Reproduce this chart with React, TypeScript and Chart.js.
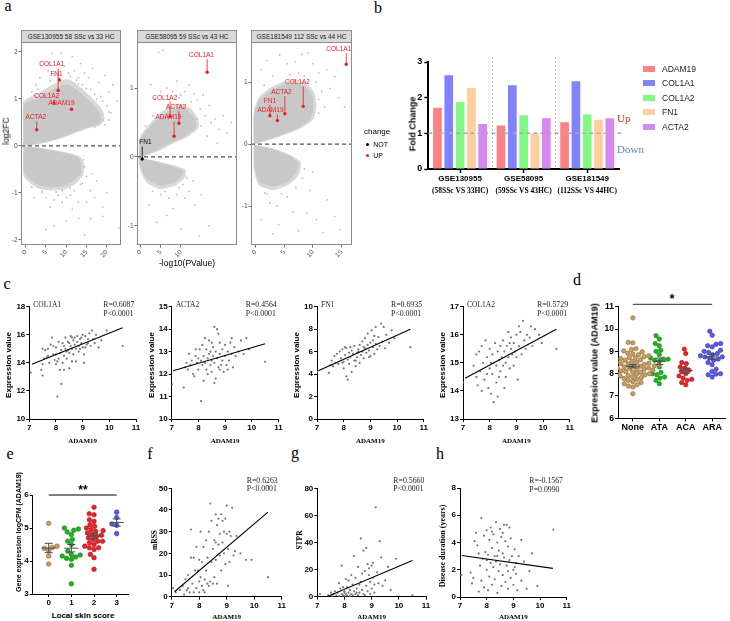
import React, { useEffect, useRef } from 'react';
import { Chart, registerables } from 'chart.js';

Chart.register(...registerables);

const SANS = "'Liberation Sans', Arial, Helvetica, sans-serif";
const SERIF = "'Liberation Serif', 'Times New Roman', Times, serif";
Chart.defaults.font.family = SANS;

type Pt = [number, number];

// ================= Panel a : volcano plots =================
const volcanoTitles = ['GSE130955 58 SSc vs 33 HC', 'GSE58095 59 SSc vs 43 HC', 'GSE181549 112 SSc vs 44 HC'];

// dense point clouds (outline of the cloud, log10P / log2FC) and their sparser halo
const v1Upper: Pt[] = [[-0.4,0.02],[-0.45,0.45],[-0.35,0.88],[1,0.95],[3,1.0],[5,1.1],[7,1.2],[9,1.28],[10.5,1.3],[12,1.22],[14,1.08],[16,0.92],[17.5,0.78],[18.5,0.62],[18,0.48],[15,0.4],[12,0.3],[9,0.2],[6,0.12],[3,0.06],[1,0.02],[-0.4,0.02]];
const v1Lower: Pt[] = [[-0.4,-0.02],[2,-0.04],[5,-0.08],[8,-0.13],[11,-0.19],[13,-0.26],[13.6,-0.4],[13.3,-0.6],[11.5,-0.76],[9,-0.85],[6,-0.87],[3,-0.82],[1,-0.7],[-0.3,-0.58],[-0.45,-0.3],[-0.4,-0.02]];
const v1UpperHalo: Pt[] = [[-0.5,0.02],[-0.6,0.48],[-0.5,0.94],[1,1.03],[3,1.1],[5,1.21],[7,1.31],[9,1.39],[10.5,1.41],[12,1.34],[14,1.2],[16,1.04],[17.8,0.88],[19,0.72],[19.3,0.55],[18.5,0.45],[15,0.37],[12,0.27],[9,0.18],[6,0.1],[3,0.045],[-0.5,0.02]];
const v1LowerHalo: Pt[] = [[-0.5,-0.02],[2,-0.035],[5,-0.07],[8,-0.115],[11,-0.17],[13.3,-0.23],[14.3,-0.38],[14,-0.62],[12.3,-0.8],[9.5,-0.92],[6,-0.94],[3,-0.89],[1,-0.78],[-0.4,-0.64],[-0.6,-0.3],[-0.5,-0.02]];
const v1Sparse: Pt[] = [[1.5,1.15],[2.5,1.3],[3.5,1.45],[4.5,1.75],[5.5,1.6],[6.5,1.97],[7,1.5],[8.8,1.98],[9.5,1.7],[10.5,1.55],[11.5,1.9],[12,1.6],[13,1.45],[13.5,1.75],[14,1.3],[14.5,1.55],[15.5,1.45],[16,1.2],[16.5,1.65],[17,1.1],[18,1.35],[18.5,1.05],[19,0.95],[19.5,1.5],[20,0.85],[20.5,1.15],[21,0.7],[21.5,1.3],[22.5,0.95],[16,0.6],[19,0.55],[12.5,1.4],[3,1.2],[19.5,0.45],[20.5,0.55],[17,0.4],[13.5,-0.55],[14,-0.8],[14.5,-0.45],[15,-0.65],[16,-0.95],[16.5,-0.6],[17.5,-0.75],[12,-0.95],[11,-1.05],[10,-1.1],[9,-1.2],[8,-1.05],[7,-1.15],[5,-1.1],[4,-1.0],[6,-1.3],[11.5,-1.35],[13,-1.2],[15,-1.2],[17,-1.1],[19,-1.3],[20,-1.0],[19,-1.5],[13,-1.55],[16,-1.55],[7,-1.7],[5,-1.78],[23,-1.75],[14.5,-1.9],[10,-1.6],[2,-1.1],[9,-0.95],[14.2,-0.3],[6,1.38],[8,1.45],[11,1.48],[13,1.32],[15,1.22],[17.5,1.0],[20.5,0.72],[2,1.08],[7.5,-0.98],[11,-0.9],[4,-0.96],[1.5,-0.88],[13.5,-0.82]];
const v1Genes = ['COL1A1', 'FN1', 'COL1A2', 'ADAM19', 'ACTA2'];
const v1GenePts: Pt[] = [[8.0,1.18],[8.3,1.40],[7.0,0.91],[11.3,0.78],[2.7,0.34]];
const v1LabelPts: Pt[] = [[6.4,1.73],[7.6,1.52],[5.2,1.06],[8.85,0.9],[2.5,0.6]];
const v1Change = ['UP', 'UP', 'UP', 'UP', 'UP'];

const v2Upper: Pt[] = [[-0.2,0.01],[-0.2,0.2],[0.4,0.3],[2.3,0.43],[4.8,0.58],[7.3,0.67],[10.2,0.7],[12.2,0.64],[13.5,0.52],[13.6,0.42],[10.6,0.3],[6.4,0.18],[3.1,0.08],[0.7,0.02],[-0.2,0.01]];
const v2Lower: Pt[] = [[-0.2,-0.02],[0.5,-0.03],[4.8,-0.09],[8.9,-0.16],[10.4,-0.21],[10.2,-0.28],[8.1,-0.37],[4.8,-0.41],[1.9,-0.33],[0.5,-0.2],[-0.2,-0.1],[-0.2,-0.02]];
const v2UpperHalo: Pt[] = [[-0.3,0.01],[-0.3,0.22],[0.4,0.34],[2.3,0.48],[4.8,0.63],[7.3,0.73],[10.2,0.76],[12.4,0.7],[14,0.57],[14.3,0.43],[11.8,0.3],[8,0.2],[4.8,0.1],[0.7,0.017],[-0.3,0.01]];
const v2LowerHalo: Pt[] = [[-0.3,-0.02],[0.5,-0.025],[4.8,-0.08],[8.9,-0.14],[11,-0.19],[11,-0.29],[8.6,-0.41],[4.8,-0.46],[1.7,-0.38],[0.2,-0.22],[-0.3,-0.1],[-0.3,-0.02]];
const v2Sparse: Pt[] = [[4.5,1.52],[5.6,1.55],[2.5,1.05],[3.5,0.85],[5,0.95],[6.5,1.0],[8,0.95],[9,1.1],[10,0.9],[11,0.95],[12,1.05],[13.2,0.92],[14.1,0.83],[14.8,0.7],[15.5,0.9],[16,0.6],[17,0.75],[17.5,0.5],[18.5,0.55],[19.5,0.4],[20.5,0.6],[21.5,0.35],[22.5,0.5],[15,0.45],[16.5,0.3],[14,0.55],[19,0.2],[10.5,-0.4],[11.5,-0.3],[12,-0.5],[13,-0.35],[11,-0.6],[9,-0.55],[7,-0.6],[5,-0.55],[3,-0.5],[13.5,-0.7],[8,-0.75],[15,-0.55],[6.5,-0.85],[4,-0.95],[17,-1.0],[14.5,-1.15],[10,-1.05],[2,-0.7],[7,0.84],[9.5,0.86],[12.5,0.8],[3,0.6],[1.2,0.45],[6,-0.5],[9.5,-0.45]];
const v2Genes = ['COL1A1', 'COL1A2', 'ACTA2', 'ADAM19', 'FN1'];
const v2GenePts: Pt[] = [[16.5,1.23],[7.3,0.59],[9.5,0.49],[8.3,0.30],[0.4,-0.03]];
const v2LabelPts: Pt[] = [[15.1,1.48],[6.0,0.86],[8.8,0.72],[6.9,0.57],[1.2,0.21]];
const v2Change = ['UP', 'UP', 'UP', 'UP', 'NOT'];

const v3Upper: Pt[] = [[-0.2,0.01],[-0.25,0.35],[-0.1,0.53],[0.75,0.72],[2.5,0.85],[4.8,0.95],[7.2,0.98],[8.9,0.9],[9.8,0.77],[10,0.6],[9.5,0.4],[7.2,0.26],[4.2,0.15],[1.9,0.07],[0.2,0.02],[-0.2,0.01]];
const v3Lower: Pt[] = [[-0.2,-0.02],[0.2,-0.03],[3.1,-0.09],[6,-0.2],[7.4,-0.31],[6.9,-0.47],[5.4,-0.6],[3.1,-0.68],[0.75,-0.6],[-0.15,-0.38],[-0.2,-0.02]];
const v3UpperHalo: Pt[] = [[-0.25,0.01],[-0.32,0.38],[-0.15,0.58],[0.75,0.77],[2.5,0.9],[4.8,1.0],[7.2,1.04],[9.05,0.96],[10.2,0.82],[10.5,0.61],[10,0.4],[7.6,0.25],[4.2,0.13],[1.9,0.06],[-0.25,0.01]];
const v3LowerHalo: Pt[] = [[-0.25,-0.02],[0.2,-0.025],[3.1,-0.08],[6,-0.18],[7.8,-0.29],[7.45,-0.5],[5.7,-0.65],[3.1,-0.74],[0.6,-0.66],[-0.25,-0.4],[-0.25,-0.02]];
const v3Sparse: Pt[] = [[1,1.2],[2,1.35],[4.2,1.44],[5.5,1.3],[6.9,1.33],[8,1.45],[9.2,1.47],[10,1.3],[11,1.15],[12.4,1.2],[13.8,1.09],[13,0.9],[11.5,0.85],[12,0.6],[14.5,0.75],[15.5,0.6],[10.5,1.0],[3,1.1],[7.5,1.15],[11,0.5],[1.6,-0.79],[3.7,-1.0],[5.5,-0.85],[7,-0.7],[8.2,-0.55],[8.9,-1.11],[10.6,-1.22],[11.8,-1.43],[13.8,-1.17],[14.7,-1.38],[1,-1.22],[4,-1.3],[6.5,-1.1],[9.5,-0.75],[12.5,-0.9],[3,-1.45],[7.5,-1.4],[10,-0.45],[2.5,-0.95],[6,1.12],[8.5,1.1],[1.5,0.95],[11,0.72],[8.5,-0.4],[4.5,-0.8],[2,-0.8]];
const v3Genes = ['COL1A1', 'COL1A2', 'ACTA2', 'FN1', 'ADAM19'];
const v3GenePts: Pt[] = [[15.8,1.29],[8.3,0.61],[5.1,0.49],[2.5,0.46],[3.8,0.38]];
const v3LabelPts: Pt[] = [[14.5,1.53],[7.3,1.0],[4.5,0.84],[2.5,0.70],[2.6,0.54]];
const v3Change = ['UP', 'UP', 'UP', 'UP', 'UP'];

// ================= Panel b : fold change bars =================
const bGroups = ['GSE130955', 'GSE58095', 'GSE181549'];
const bSubLabels = ['(58SSc VS 33HC)', '(59SSc VS 43HC)', '(112SSc VS 44HC)'];
const bGenes = ['ADAM19', 'COL1A1', 'COL1A2', 'FN1', 'ACTA2'];
const bADAM19 = [1.72, 1.22, 1.31];
const bCOL1A1 = [2.63, 2.35, 2.46];
const bCOL1A2 = [1.88, 1.51, 1.53];
const bFN1 = [2.27, 0.99, 1.38];
const bACTA2 = [1.26, 1.42, 1.42];
const bColors = ['#FF8282', '#8282FF', '#84F884', '#FFCE9E', '#D688EE'];

// ================= Panel c : correlations with ADAM19 =================
const cCOL1A1: Pt[] = [[7.05,13.3],[7.5,13.1],[7.45,13.5],[7.5,13.9],[7.55,14.3],[7.6,14.9],[7.5,15.0],[7.7,14.5],[7.75,14.0],[7.8,15.3],[7.85,15.8],[7.9,14.6],[7.95,14.2],[8.0,15.1],[8.0,13.9],[8.05,14.1],[8.05,11.6],[8.1,15.5],[8.15,14.7],[8.15,13.5],[8.2,14.9],[8.2,12.5],[8.25,15.4],[8.3,14.5],[8.3,13.5],[8.35,15.8],[8.35,15.0],[8.4,14.3],[8.45,15.5],[8.5,14.7],[8.5,13.6],[8.55,15.2],[8.6,15.0],[8.6,14.1],[8.65,15.6],[8.7,15.8],[8.7,15.3],[8.75,15.0],[8.75,14.1],[8.8,15.9],[8.8,15.5],[8.85,15.2],[8.9,15.7],[8.9,15.0],[8.95,15.4],[9.0,16.0],[9.0,15.1],[9.05,14.6],[9.05,14.0],[9.1,15.9],[9.15,15.3],[9.2,15.7],[9.25,16.1],[9.3,15.2],[9.35,16.3],[9.4,15.7],[9.45,15.4],[9.5,16.0],[9.6,15.1],[9.7,15.6],[9.9,16.3],[10.5,15.2],[8.5,15.4],[8.6,15.8],[8.4,14.8],[8.3,15.2],[8.1,14.3],[7.9,15.2],[7.7,15.0],[8.45,14.9],[8.65,14.6],[8.85,14.8],[9.1,15.1],[8.25,14.0],[8.55,15.9],[8.95,15.8],[9.2,15.4],[7.65,14.4],[8.0,14.6]];
const cCOL1A1Fit: Pt[] = [[7.1,13.9],[10.5,16.5]];
const cACTA2: Pt[] = [[7.0,11.55],[7.45,11.4],[7.5,12.3],[7.55,12.5],[7.6,12.2],[7.65,12.9],[7.7,12.4],[7.75,12.6],[7.8,12.0],[7.85,11.9],[7.9,12.8],[7.95,12.5],[8.0,12.7],[8.0,12.2],[8.05,13.1],[8.1,10.8],[8.1,12.6],[8.15,12.4],[8.15,13.3],[8.2,12.8],[8.2,11.7],[8.25,12.5],[8.3,13.1],[8.3,12.2],[8.35,12.7],[8.4,13.5],[8.4,12.9],[8.45,12.4],[8.45,13.0],[8.5,12.6],[8.5,12.1],[8.55,13.2],[8.55,12.8],[8.6,14.1],[8.6,12.5],[8.6,11.6],[8.65,13.0],[8.65,11.8],[8.7,14.0],[8.7,12.7],[8.75,13.8],[8.75,12.3],[8.8,13.4],[8.8,12.9],[8.85,12.4],[8.9,13.1],[8.9,12.6],[8.95,12.1],[9.0,13.3],[9.0,12.8],[9.05,12.4],[9.1,13.0],[9.15,12.6],[9.2,13.4],[9.25,12.9],[9.3,12.3],[9.35,13.2],[9.4,12.8],[9.5,13.0],[9.6,13.5],[9.7,12.9],[9.8,13.6],[9.9,13.1],[10.5,12.55],[8.35,12.0],[8.25,13.6],[7.9,13.1],[8.8,12.2],[9.1,12.2],[8.5,13.4],[9.25,13.6]];
const cACTA2Fit: Pt[] = [[7.05,12.15],[10.5,13.35]];
const cFN1: Pt[] = [[7.0,4.2],[7.45,4.1],[7.5,4.8],[7.55,5.2],[7.6,4.7],[7.65,5.6],[7.7,5.0],[7.75,5.8],[7.8,4.9],[7.85,6.0],[7.9,5.4],[7.95,6.2],[8.0,5.1],[8.0,4.5],[8.05,5.7],[8.1,6.3],[8.1,3.8],[8.15,5.3],[8.15,3.5],[8.2,5.9],[8.2,4.9],[8.25,5.5],[8.3,6.1],[8.3,4.2],[8.35,5.8],[8.4,5.2],[8.4,6.5],[8.45,4.7],[8.5,5.9],[8.5,5.5],[8.55,6.2],[8.6,5.0],[8.6,6.6],[8.65,5.7],[8.7,6.0],[8.7,6.9],[8.75,5.4],[8.8,6.3],[8.8,7.2],[8.85,5.9],[8.9,6.6],[8.9,7.6],[8.95,6.1],[9.0,6.8],[9.0,5.6],[9.05,7.9],[9.1,6.4],[9.1,7.0],[9.15,5.8],[9.2,8.2],[9.2,6.7],[9.25,6.2],[9.3,7.3],[9.35,6.5],[9.4,8.5],[9.45,6.9],[9.5,8.2],[9.55,6.3],[9.6,7.5],[9.7,6.8],[9.8,7.9],[9.9,7.2],[10.5,6.4],[8.25,6.4],[8.45,5.2],[8.55,6.0],[8.75,6.4],[8.95,5.5],[9.15,7.4],[7.95,5.0],[8.05,6.4]];
const cFN1Fit: Pt[] = [[7.05,4.3],[10.5,8.0]];
const cCOL1A2: Pt[] = [[7.0,14.3],[7.4,14.9],[7.5,14.5],[7.5,15.3],[7.55,14.2],[7.6,15.4],[7.65,14.7],[7.7,15.6],[7.7,14.0],[7.75,15.0],[7.8,14.4],[7.85,15.8],[7.9,15.2],[7.95,14.1],[8.0,15.5],[8.0,14.8],[8.05,13.9],[8.1,15.3],[8.1,14.6],[8.15,15.0],[8.15,13.6],[8.2,15.7],[8.25,14.9],[8.25,14.3],[8.3,15.4],[8.3,13.8],[8.35,15.1],[8.4,15.6],[8.4,14.7],[8.45,15.2],[8.5,15.8],[8.5,14.9],[8.55,15.4],[8.6,15.0],[8.6,14.5],[8.65,15.6],[8.7,15.2],[8.7,16.1],[8.75,14.8],[8.8,15.5],[8.8,15.9],[8.85,15.3],[8.9,15.7],[8.9,14.9],[8.95,15.4],[9.0,16.0],[9.0,15.2],[9.05,14.4],[9.1,15.6],[9.15,16.1],[9.2,15.3],[9.25,16.5],[9.3,15.8],[9.35,15.5],[9.4,16.0],[9.5,15.9],[9.55,16.3],[9.6,15.6],[9.7,16.2],[9.85,16.0],[9.95,15.7],[10.5,15.5],[8.55,14.1],[8.35,14.5],[8.75,15.7],[9.1,16.3],[8.05,15.0],[7.9,14.6]];
const cCOL1A2Fit: Pt[] = [[7.08,14.45],[10.5,16.2]];

const cGenes = ['COL1A1', 'ACTA2', 'FN1', 'COL1A2'];
const cR = ['R=0.6087', 'R=0.4564', 'R=0.6935', 'R=0.5729'];
const cP = ['P<0.0001', 'P<0.0001', 'P<0.0001', 'P<0.0001'];
const cYMin = [10, 10, 0, 13];
const cYMax = [18, 15, 10, 17];
const cYTicks = [[10, 12, 14, 16, 18], [10, 11, 12, 13, 14, 15], [0, 2, 4, 6, 8, 10], [13, 14, 15, 16, 17]];

// ================= Panel d : ADAM19 by autoantibody =================
const dGroups = ['None', 'ATA', 'ACA', 'ARA'];
const dNone = [10.5,9.4,9.38,9.12,9.08,9.02,8.98,8.92,8.88,8.85,8.8,8.76,8.72,8.7,8.68,8.62,8.6,8.55,8.52,8.5,8.47,8.44,8.42,8.4,8.38,8.35,8.33,8.3,8.28,8.26,8.24,8.2,8.18,8.15,8.12,8.1,8.08,8.05,8.02,8.0,7.97,7.95,7.92,7.9,7.86,7.82,7.78,7.75,7.7,7.65,7.6,7.55,7.5,7.45,7.4,7.1,8.45,8.25,8.55,8.35];
const dATA = [9.7,9.55,9.35,9.25,9.05,8.85,8.7,8.65,8.65,8.6,8.55,8.3,8.05,8.0,7.95,7.85,7.8,7.7,7.55,9.0];
const dACA = [9.1,8.9,8.5,8.45,8.3,8.25,8.15,8.1,8.0,7.8,7.75,7.7,7.6,7.5,7.9];
const dARA = [9.9,9.72,9.35,9.32,9.25,9.2,9.05,9.0,8.95,8.9,8.85,8.8,8.75,8.7,8.65,8.6,8.5,8.4,8.2,8.1,8.0,7.98,7.95,7.85,8.75];

// ================= Panel e : ADAM19 by local skin score =================
const eGroups = ['0', '1', '2', '3'];
const e0 = [5.14,4.45,4.41,4.38,4.31,4.15,3.91];
const e1 = [5.0,4.97,4.93,4.88,4.8,4.65,4.6,4.5,4.3,4.2,4.18,4.15,4.12,4.08,4.05,3.87,3.31];
const e2 = [5.63,5.43,5.4,5.25,5.2,5.1,5.05,5.0,4.95,4.92,4.9,4.85,4.8,4.78,4.75,4.7,4.65,4.6,4.6,4.55,4.5,4.45,4.4,4.4,4.35,4.2,4.1,3.75];
const e3 = [5.48,5.32,5.12,5.08,4.83];

// ================= Panels f, g, h : clinical correlations =================
const fMRSS: Pt[] = [[7.05,4],[7.15,2],[7.3,3],[7.4,5],[7.45,1],[7.5,8],[7.55,3],[7.6,10],[7.65,2],[7.7,31],[7.7,18],[7.75,6],[7.8,2],[7.8,18],[7.85,12],[7.9,4],[7.9,23],[7.95,12],[8.0,2],[8.0,17],[8.05,9],[8.05,30],[8.1,5],[8.1,16],[8.15,3],[8.15,23],[8.2,8],[8.2,2],[8.25,12],[8.3,6],[8.3,18],[8.35,30],[8.35,5],[8.4,43],[8.4,7],[8.45,16],[8.5,6],[8.5,22],[8.55,9],[8.55,26],[8.6,38],[8.6,17],[8.65,33],[8.65,6],[8.7,24],[8.7,36],[8.75,29],[8.75,19],[8.8,38],[8.8,12],[8.85,25],[8.85,35],[8.9,20],[8.9,30],[8.95,15],[9.0,42],[9.0,29],[9.05,5],[9.05,22],[9.1,16],[9.15,28],[9.2,41],[9.25,19],[9.3,21],[9.35,28],[9.5,20],[9.7,17],[9.9,17],[10.5,9],[8.25,26],[8.45,35],[8.95,36],[9.1,30],[7.6,4],[8.0,7],[8.6,25]];
const fFit: Pt[] = [[7.1,2.3],[10.5,39]];
const gSTPR: Pt[] = [[7.1,2],[7.4,1],[7.5,3],[7.55,0.5],[7.6,2],[7.65,4],[7.7,1],[7.75,3],[7.8,0.5],[7.8,10],[7.85,6],[7.9,2],[7.9,23],[7.95,1],[8.0,4],[8.0,0.5],[8.05,13],[8.05,2],[8.1,7],[8.1,1],[8.15,3],[8.15,12],[8.2,0.5],[8.2,5],[8.25,2],[8.3,9],[8.3,1],[8.35,4],[8.35,30],[8.4,2],[8.4,14],[8.45,6],[8.5,22],[8.5,1],[8.55,3],[8.55,9],[8.6,43],[8.6,11],[8.65,5],[8.65,17],[8.7,34],[8.7,2],[8.75,19],[8.8,36],[8.8,8],[8.85,24],[8.85,4],[8.9,16],[8.9,21],[8.95,11],[9.0,23],[9.0,6],[9.05,14],[9.1,3],[9.1,9],[9.15,66],[9.2,18],[9.25,10],[9.3,41],[9.35,29],[9.4,8],[9.5,12],[9.6,22],[9.7,5],[9.9,28],[10.5,1],[8.25,16],[8.45,3],[8.75,1],[8.95,2],[9.05,25],[7.95,7],[8.0,3]];
const gFit: Pt[] = [[7.35,0],[10.5,26.8]];
const hDuration: Pt[] = [[7.05,1.6],[7.4,1.8],[7.45,1.0],[7.5,1.4],[7.55,4.1],[7.6,4.7],[7.65,3.8],[7.7,0.4],[7.75,2.3],[7.8,5.8],[7.8,1.2],[7.85,2.8],[7.9,4.5],[7.9,0.7],[7.95,3.3],[8.0,2.0],[8.0,4.9],[8.05,0.5],[8.05,3.1],[8.1,4.2],[8.1,1.5],[8.15,2.5],[8.15,5.1],[8.2,3.6],[8.2,0.9],[8.25,2.2],[8.25,4.6],[8.3,3.0],[8.3,1.3],[8.35,5.5],[8.35,2.6],[8.4,4.0],[8.4,0.3],[8.45,3.4],[8.45,1.9],[8.5,5.0],[8.5,2.4],[8.55,4.4],[8.55,0.8],[8.6,3.2],[8.6,1.6],[8.65,5.3],[8.65,2.9],[8.7,4.1],[8.7,1.1],[8.75,5.3],[8.75,2.3],[8.8,3.7],[8.8,0.6],[8.85,5.1],[8.85,2.7],[8.9,4.3],[8.9,1.4],[8.95,3.0],[9.0,2.0],[9.0,0.9],[9.05,3.5],[9.1,1.7],[9.1,2.5],[9.15,0.5],[9.2,3.0],[9.3,4.2],[9.3,1.2],[9.4,2.6],[9.5,0.6],[9.6,1.9],[9.7,3.2],[9.9,0.8],[10.5,4.95],[8.2,4.8],[8.4,3.0],[8.6,4.7],[8.8,1.9],[9.05,2.2],[7.7,3.2],[8.0,2.7]];
const hFit: Pt[] = [[7.07,3.05],[10.48,2.1]];

// ================= helpers =================
const RED = '#EE1C1C';
const xy = (p: Pt) => ({ x: p[0], y: p[1] });
const fixTicks = (vals: number[]) => (s: any) => { s.ticks = vals.map((v) => ({ value: v })); };

function swarm(values: number[], yPx: number, xPx: number, diam: number): number[] {
  const order = values.map((_, i) => i).sort((a, b) => values[a] - values[b]);
  const placed: { x: number; y: number }[] = [];
  const out = new Array(values.length).fill(0);
  for (const i of order) {
    const y = values[i] * yPx;
    const iv: [number, number][] = [];
    for (const p of placed) {
      const dy = Math.abs(p.y - y);
      if (dy < diam) {
        const dx = Math.sqrt(diam * diam - dy * dy);
        iv.push([p.x - dx, p.x + dx]);
      }
    }
    const cands = [0];
    iv.forEach(([a, b]) => cands.push(a, b));
    cands.sort((a, b) => Math.abs(a) - Math.abs(b));
    let x = 0;
    for (const c of cands) {
      if (iv.every(([a, b]) => c <= a + 1e-6 || c >= b - 1e-6)) { x = c; break; }
    }
    placed.push({ x, y });
    out[i] = x / xPx;
  }
  return out;
}

function pAxis(min: number, max: number, ticks: number[], size: number, cb?: (v: any, i: number) => string) {
  const t: any = { font: { family: SANS, size, weight: 'bold' }, color: '#000', padding: 1, autoSkip: false, maxRotation: 0, minRotation: 0 };
  if (cb) t.callback = cb;
  return {
    type: 'linear', min, max, bounds: 'data',
    afterBuildTicks: fixTicks(ticks),
    grid: { display: true, drawOnChartArea: false, drawTicks: true, tickLength: 3, tickColor: '#000', tickWidth: 1 },
    border: { display: true, color: '#000', width: 1 },
    ticks: t,
  };
}

function vAxis(min: number, max: number, ticks: number[], rotate: boolean) {
  return {
    type: 'linear', min, max, bounds: 'data',
    afterBuildTicks: fixTicks(ticks),
    grid: { display: true, drawOnChartArea: false, drawTicks: true, tickLength: 2.5, tickColor: '#444', tickWidth: 0.8 },
    border: { display: false },
    ticks: { font: { family: SANS, size: 6.5 }, color: '#4d4d4d', padding: 1, autoSkip: false, maxRotation: rotate ? 45 : 0, minRotation: rotate ? 45 : 0 },
  };
}

function volcanoConfig(o: { xMin: number; xMax: number; yMin: number; yMax: number; xTicks: number[]; yTicks: number[]; upper: Pt[]; lower: Pt[]; upperHalo: Pt[]; lowerHalo: Pt[]; sparse: Pt[]; genes: string[]; genePts: Pt[]; labelPts: Pt[]; change: string[] }) {
  const colors = o.change.map((c) => (c === 'UP' ? RED : '#000'));
  const cloud = (pts: Pt[], col: string) => ({ type: 'line', data: pts.map(xy), fill: 'shape', backgroundColor: col, borderColor: col, borderWidth: 1, pointRadius: 0, tension: 0.15, showLine: true });
  // Chart.js paints dataset 0 on top, so the list runs from front to back
  return {
    type: 'scatter',
    data: {
      datasets: [
        { data: o.genePts.map(xy), pointRadius: 1.7, backgroundColor: colors, borderWidth: 0 },
        { type: 'line', data: [{ x: o.xMin, y: 0 }, { x: o.xMax, y: 0 }], borderColor: '#505050', borderDash: [4, 3], borderWidth: 1.1, pointRadius: 0, fill: false, showLine: true },
        { data: o.sparse.map(xy), pointRadius: 0.9, backgroundColor: '#BDBDBD', borderWidth: 0 },
        cloud(o.upper, '#C8C8C8'),
        cloud(o.lower, '#C8C8C8'),
        cloud(o.upperHalo, '#D8D8D8'),
        cloud(o.lowerHalo, '#D8D8D8'),
      ],
    },
    options: { scales: { x: vAxis(o.xMin, o.xMax, o.xTicks, true), y: vAxis(o.yMin, o.yMax, o.yTicks, false) } },
    plugins: [{
      id: 'volcanoExtras',
      afterDatasetsDraw(chart: any) {
        const { ctx, chartArea: a, scales: { x, y } } = chart;
        ctx.save();
        ctx.font = `6.5px ${SANS}`;
        ctx.textAlign = 'center';
        ctx.textBaseline = 'middle';
        o.genes.forEach((g, i) => {
          const px = x.getPixelForValue(o.genePts[i][0]);
          const py = y.getPixelForValue(o.genePts[i][1]);
          const lx = x.getPixelForValue(o.labelPts[i][0]);
          const ly = y.getPixelForValue(o.labelPts[i][1]);
          const w = ctx.measureText(g).width / 2;
          const sx = Math.max(lx - w, Math.min(lx + w, px));
          const sy = ly + (py > ly ? 4 : -4);
          ctx.strokeStyle = colors[i];
          ctx.fillStyle = colors[i];
          ctx.lineWidth = 0.8;
          ctx.beginPath();
          ctx.moveTo(sx, sy);
          ctx.lineTo(px, py);
          ctx.stroke();
          ctx.fillText(g, lx, ly);
        });
        ctx.strokeStyle = '#8c8c8c';
        ctx.lineWidth = 1;
        ctx.strokeRect(a.left + 0.5, a.top + 0.5, a.width - 1, a.height - 1);
        ctx.restore();
      },
    }],
  };
}

function corrConfig(points: Pt[], fit: Pt[], yMin: number, yMax: number, yTicks: number[]) {
  return {
    type: 'scatter',
    data: {
      datasets: [
        { type: 'line', data: fit.map(xy), borderColor: '#000', borderWidth: 1.1, pointRadius: 0, fill: false, showLine: true },
        { data: points.map(xy), pointRadius: 1.1, backgroundColor: '#777', borderWidth: 0 },
      ],
    },
    options: { scales: { x: pAxis(7, 11, [7, 8, 9, 10, 11], 8), y: pAxis(yMin, yMax, yTicks, 8) } },
  };
}

function dotConfig(o: { groups: number[][]; names: string[]; xMin: number; xMax: number; yMin: number; yMax: number; yTicks: number[]; yPx: number; xPx: number; r: number; sigY: number; xFont: number; yFont: number }) {
  const fills = ['#C99E62', '#1FB41F', '#E8232B', '#5A5AE8'];
  const lines = ['#8A6733', '#14801A', '#A8141B', '#3434AA'];
  const datasets = o.groups.map((vals, i) => {
    const offs = swarm(vals, o.yPx, o.xPx, o.r * 2 + 0.3);
    return { data: vals.map((v, j) => ({ x: i + offs[j], y: v })), pointRadius: o.r, backgroundColor: fills[i], borderColor: lines[i], borderWidth: 0.6 };
  });
  return {
    type: 'scatter',
    data: { datasets },
    options: {
      scales: {
        x: pAxis(o.xMin, o.xMax, [0, 1, 2, 3], o.xFont, (_v: any, i: number) => o.names[i]),
        y: pAxis(o.yMin, o.yMax, o.yTicks, o.yFont),
      },
    },
    plugins: [{
      id: 'meanSem',
      afterDraw(chart: any) {
        const { ctx, scales: { x, y } } = chart;
        ctx.save();
        ctx.strokeStyle = '#4a4a4a';
        ctx.lineWidth = 1;
        const seg = (x1: number, y1: number, x2: number, y2: number) => { ctx.beginPath(); ctx.moveTo(x1, y1); ctx.lineTo(x2, y2); ctx.stroke(); };
        o.groups.forEach((vals, i) => {
          const n = vals.length;
          const m = vals.reduce((a, b) => a + b, 0) / n;
          const sd = Math.sqrt(vals.reduce((a, b) => a + (b - m) * (b - m), 0) / (n - 1));
          const se = sd / Math.sqrt(n);
          const cx = x.getPixelForValue(i);
          const ym = y.getPixelForValue(m), yt = y.getPixelForValue(m + se), yb = y.getPixelForValue(m - se);
          seg(cx - 7, ym, cx + 7, ym);
          seg(cx, yt, cx, yb);
          seg(cx - 4, yt, cx + 4, yt);
          seg(cx - 4, yb, cx + 4, yb);
        });
        ctx.strokeStyle = '#555';
        ctx.lineWidth = 1.3;
        const sy = y.getPixelForValue(o.sigY);
        seg(x.getPixelForValue(0), sy, x.getPixelForValue(3), sy);
        ctx.restore();
      },
    }],
  };
}

function barConfig() {
  const series = [bADAM19, bCOL1A1, bCOL1A2, bFN1, bACTA2];
  return {
    type: 'bar',
    data: {
      labels: bGroups,
      datasets: bGenes.map((g, i) => ({ label: g, data: series[i], backgroundColor: bColors[i], borderWidth: 0, categoryPercentage: 0.89, barPercentage: 0.77 })),
    },
    options: {
      scales: {
        x: {
          grid: { display: true, drawOnChartArea: false, drawTicks: true, tickLength: 4, tickColor: '#000', tickWidth: 1.5, offset: false },
          border: { display: true, color: '#000', width: 2 },
          ticks: { font: { family: SANS, size: 8, weight: 'bold' }, color: '#000', padding: 1, maxRotation: 0, minRotation: 0 },
        },
        y: {
          type: 'linear', min: 0, max: 3, bounds: 'data',
          afterBuildTicks: fixTicks([0, 1, 2, 3]),
          grid: { display: true, drawOnChartArea: false, drawTicks: true, tickLength: 4, tickColor: '#000', tickWidth: 1.5 },
          border: { display: true, color: '#000', width: 2 },
          ticks: { font: { family: SANS, size: 9, weight: 'bold' }, color: '#000', padding: 2 },
        },
      },
    },
    plugins: [{
      id: 'bExtras',
      beforeDatasetsDraw(chart: any) {
        const { ctx, chartArea: a, scales: { x } } = chart;
        ctx.save();
        ctx.strokeStyle = '#b8b8b8';
        ctx.lineWidth = 1;
        ctx.setLineDash([2, 2]);
        [0.5, 1.5].forEach((v) => {
          const px = Math.round(x.getPixelForValue(v)) + 0.5;
          ctx.beginPath(); ctx.moveTo(px, a.top - 5); ctx.lineTo(px, a.bottom); ctx.stroke();
        });
        ctx.restore();
      },
      afterDatasetsDraw(chart: any) {
        const { ctx, chartArea: a, scales: { x, y } } = chart;
        ctx.save();
        ctx.strokeStyle = '#ababab';
        ctx.lineWidth = 1.5;
        ctx.setLineDash([4, 3]);
        const py = y.getPixelForValue(1);
        ctx.beginPath(); ctx.moveTo(a.left, py); ctx.lineTo(a.right + 3, py); ctx.stroke();
        ctx.setLineDash([]);
        ctx.fillStyle = '#000';
        ctx.font = `bold 7.5px ${SERIF}`;
        ctx.textAlign = 'center';
        ctx.textBaseline = 'middle';
        bSubLabels.forEach((s, i) => ctx.fillText(s, x.getPixelForValue(i), a.bottom + 22));
        ctx.restore();
      },
    }],
  };
}

// ================= rendering =================
function ChartCanvas(props: { area: number[]; pad: number[]; build: () => any }) {
  const ref = useRef<HTMLCanvasElement | null>(null);
  const [l, t, r, b] = props.area;
  const [L, T, R, B] = props.pad;
  const cl = Math.floor(l - L);
  const ct = Math.floor(t - T);
  const cw = Math.ceil(r + R) - cl;
  const ch = Math.ceil(b + B) - ct;
  const padL = l - cl, padT = t - ct, padR = cl + cw - r, padB = ct + ch - b;
  useEffect(() => {
    const cfg = props.build();
    const o = cfg.options || (cfg.options = {});
    o.responsive = false;
    o.maintainAspectRatio = false;
    o.animation = false;
    o.devicePixelRatio = 1;
    o.events = [];
    o.layout = { padding: { left: 0, top: padT, right: padR, bottom: 0 } };
    o.plugins = { legend: { display: false }, tooltip: { enabled: false }, title: { display: false } };
    o.scales.x.afterFit = (s: any) => { s.height = padB; };
    o.scales.y.afterFit = (s: any) => { s.width = padL; };
    const chart = new Chart(ref.current as HTMLCanvasElement, cfg);
    return () => chart.destroy();
  }, []);
  return <canvas ref={ref} width={cw} height={ch} style={{ position: 'absolute', left: cl, top: ct, width: cw, height: ch }} />;
}

function Txt(p: { x: number; y: number; t: string; s: number; f?: string; w?: any; c?: string; rot?: boolean; left?: boolean }) {
  const tf = (p.left ? 'translate(0,-50%)' : 'translate(-50%,-50%)') + (p.rot ? ' rotate(-90deg)' : '');
  return (
    <div style={{ position: 'absolute', left: p.x, top: p.y, transform: tf, fontSize: p.s, fontFamily: p.f || SANS, fontWeight: p.w || 'normal', color: p.c || '#000', whiteSpace: 'nowrap', lineHeight: 1 }}>{p.t}</div>
  );
}

const cAreas = [[29.3, 306.7, 136, 419], [171.7, 306.7, 278.4, 419], [317, 306.7, 423.7, 419], [463, 306.7, 569.7, 419]];
const cData = [[cCOL1A1, cCOL1A1Fit], [cACTA2, cACTA2Fit], [cFN1, cFN1Fit], [cCOL1A2, cCOL1A2Fit]];

export default function App() {
  const volcanoSpecs = [
    { xMin: -1.16, xMax: 23.5, yMin: -2.11, yMax: 2.21, xTicks: [0, 5, 10, 15, 20], yTicks: [-2, -1, 0, 1, 2], upper: v1Upper, lower: v1Lower, upperHalo: v1UpperHalo, lowerHalo: v1LowerHalo, sparse: v1Sparse, genes: v1Genes, genePts: v1GenePts, labelPts: v1LabelPts, change: v1Change },
    { xMin: -0.9, xMax: 23.9, yMin: -1.28, yMax: 1.67, xTicks: [0, 5, 10], yTicks: [-1, 0, 1], upper: v2Upper, lower: v2Lower, upperHalo: v2UpperHalo, lowerHalo: v2LowerHalo, sparse: v2Sparse, genes: v2Genes, genePts: v2GenePts, labelPts: v2LabelPts, change: v2Change },
    { xMin: -0.8, xMax: 16.8, yMin: -1.63, yMax: 1.65, xTicks: [0, 5, 10, 15], yTicks: [-1, 0, 1], upper: v3Upper, lower: v3Lower, upperHalo: v3UpperHalo, lowerHalo: v3LowerHalo, sparse: v3Sparse, genes: v3Genes, genePts: v3GenePts, labelPts: v3LabelPts, change: v3Change },
  ];
  const vAreas = [[21, 42, 121, 245], [137, 42, 237, 245], [251, 42, 352, 245]];
  const legendY = [69, 83, 97.7, 112.3, 126.7];
  return (
    <div style={{ position: 'absolute', left: 0, top: 0, width: 730, height: 621, background: '#fff', overflow: 'hidden' }}>
      {/* panel letters */}
      <Txt x={8} y={6} t="a" s={16} f={SERIF} />
      <Txt x={378} y={7.5} t="b" s={16} f={SERIF} />
      <Txt x={7} y={283.5} t="c" s={16} f={SERIF} />
      <Txt x={577} y={280} t="d" s={16} f={SERIF} />
      <Txt x={10} y={454} t="e" s={16} f={SERIF} />
      <Txt x={150} y={454} t="f" s={16} f={SERIF} />
      <Txt x={295} y={452.5} t="g" s={16} f={SERIF} />
      <Txt x={440} y={454} t="h" s={16} f={SERIF} />

      {/* panel a */}
      {volcanoSpecs.map((s, i) => (
        <ChartCanvas key={'v' + i} area={vAreas[i]} pad={[i === 0 ? 18 : 14, 10, 4, 16]} build={() => volcanoConfig(s)} />
      ))}
      {vAreas.map((a, i) => (
        <div key={'s' + i} style={{ position: 'absolute', left: a[0], top: 30, width: a[2] - a[0], height: 13, boxSizing: 'border-box', background: '#D9D9D9', border: '1px solid #8c8c8c', fontFamily: SANS, fontSize: 6.5, color: '#1a1a1a', textAlign: 'center', lineHeight: '11px', whiteSpace: 'nowrap' }}>{volcanoTitles[i]}</div>
      ))}
      <Txt x={6} y={131} t="log2FC" s={8.5} rot />
      <Txt x={187} y={263} t="-log10(PValue)" s={8.5} />
      <Txt x={364} y={131.7} t="change" s={8} left />
      <div style={{ position: 'absolute', left: 365.8, top: 142.8, width: 3, height: 3, borderRadius: 2, background: '#000' }} />
      <div style={{ position: 'absolute', left: 365.8, top: 153.5, width: 3, height: 3, borderRadius: 2, background: RED }} />
      <Txt x={373.3} y={144.3} t="NOT" s={7} left />
      <Txt x={373.3} y={155} t="UP" s={7} left />

      {/* panel b */}
      <ChartCanvas area={[428.3, 62, 619, 169]} pad={[18, 10, 6, 30]} build={barConfig} />
      <Txt x={413} y={124} t="Fold Change" s={9} w="bold" rot />
      <Txt x={617} y={118.3} t="Up" s={11} f={SERIF} c="#E8262B" left />
      <Txt x={617} y={149} t="Down" s={11} f={SERIF} c="#5A86C8" left />
      {bGenes.map((g, i) => (
        <React.Fragment key={'lg' + i}>
          <div style={{ position: 'absolute', left: 643.3, top: legendY[i] - 3, width: 11.7, height: 6, background: bColors[i] }} />
          <Txt x={662} y={legendY[i]} t={g} s={8.5} c="#222" left />
        </React.Fragment>
      ))}

      {/* panel c */}
      {cAreas.map((a, i) => (
        <ChartCanvas key={'c' + i} area={a} pad={[20, 10, 10, 14]} build={() => corrConfig(cData[i][0], cData[i][1], cYMin[i], cYMax[i], cYTicks[i])} />
      ))}
      {cAreas.map((a, i) => (
        <React.Fragment key={'ct' + i}>
          <Txt x={a[0] - 20} y={365} t="Expression value" s={8} w="bold" rot />
          <Txt x={(a[0] + a[2]) / 2} y={440.5} t="ADAM19" s={7} f={SERIF} w="bold" />
          <Txt x={a[0] + 4} y={305} t={cGenes[i]} s={7.5} f={SERIF} c="#222" left />
          <Txt x={a[0] + 74} y={305} t={cR[i]} s={7.8} f={SERIF} c="#222" left />
          <Txt x={a[0] + 74} y={314} t={cP[i]} s={7.8} f={SERIF} c="#222" left />
        </React.Fragment>
      ))}

      {/* panel d */}
      <ChartCanvas area={[618, 306.7, 726.3, 418.3]} pad={[20, 20, 3, 16]} build={() => dotConfig({ groups: [dNone, dATA, dACA, dARA], names: dGroups, xMin: -0.5625, xMax: 3.5, yMin: 6, yMax: 11, yTicks: [6, 7, 8, 9, 10, 11], yPx: 22.33, xPx: 26.67, r: 2.2, sigY: 11.1, xFont: 9, yFont: 8.5 })} />
      <Txt x={595} y={362.5} t="Expression value (ADAM19)" s={9} w="bold" rot />
      <Txt x={672} y={298} t="*" s={13} w="bold" />

      {/* panel e */}
      <ChartCanvas area={[32.7, 495, 128, 594]} pad={[14, 12, 8, 14]} build={() => dotConfig({ groups: [e0, e1, e2, e3], names: eGroups, xMin: -0.706, xMax: 3.5, yMin: 3, yMax: 6, yTicks: [3, 4, 5, 6], yPx: 33, xPx: 22.67, r: 2.3, sigY: 6, xFont: 8, yFont: 8 })} />
      <Txt x={18} y={532} t="Gene expression logCPM (ADAM19)" s={7} w="bold" rot />
      <Txt x={83} y={615.5} t="Local skin score" s={8} w="bold" />
      <Txt x={83} y={490} t="**" s={12} w="bold" />

      {/* panels f, g, h */}
      <ChartCanvas area={[171.7, 488.3, 281.7, 596.7]} pad={[20, 10, 10, 14]} build={() => corrConfig(fMRSS, fFit, 0, 50, [0, 10, 20, 30, 40, 50])} />
      <ChartCanvas area={[317.3, 488.3, 426, 596.7]} pad={[20, 10, 10, 14]} build={() => corrConfig(gSTPR, gFit, 0, 80, [0, 20, 40, 60, 80])} />
      <ChartCanvas area={[460, 488, 566.7, 597]} pad={[20, 10, 10, 14]} build={() => corrConfig(hDuration, hFit, 0, 8, [0, 2, 4, 6, 8])} />
      <Txt x={155} y={540} t="mRSS" s={7.5} f={SERIF} w="bold" rot />
      <Txt x={300} y={540} t="STPR" s={7.5} f={SERIF} w="bold" rot />
      <Txt x={443} y={546} t="Disease duration (years)" s={8} f={SERIF} w="bold" rot />
      <Txt x={226.7} y={616.7} t="ADAM19" s={7} f={SERIF} w="bold" />
      <Txt x={371.7} y={616.7} t="ADAM19" s={7} f={SERIF} w="bold" />
      <Txt x={513.3} y={616.7} t="ADAM19" s={7} f={SERIF} w="bold" />
      <Txt x={246.7} y={480.7} t="R=0.6263" s={7.8} f={SERIF} c="#222" left />
      <Txt x={246.7} y={489.3} t="P<0.0001" s={7.8} f={SERIF} c="#222" left />
      <Txt x={393.3} y={480.7} t="R=0.5660" s={7.8} f={SERIF} c="#222" left />
      <Txt x={393.3} y={489.3} t="P<0.0001" s={7.8} f={SERIF} c="#222" left />
      <Txt x={529.3} y={481} t="R=-0.1567" s={7.8} f={SERIF} c="#222" left />
      <Txt x={529.3} y={490} t="P=0.0990" s={7.8} f={SERIF} c="#222" left />
    </div>
  );
}
